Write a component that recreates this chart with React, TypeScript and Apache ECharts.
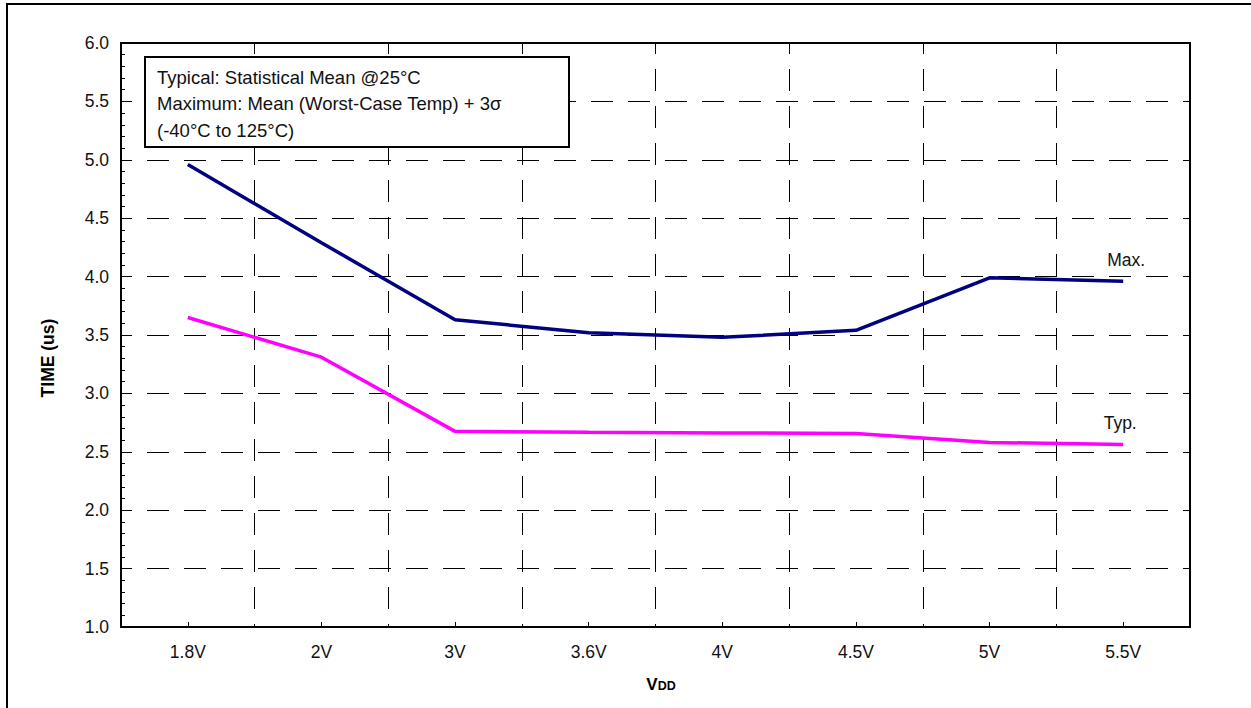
import React, { useEffect, useRef } from "react";
import * as echarts from "echarts";

const categories = ["1.8V", "2V", "3V", "3.6V", "4V", "4.5V", "5V", "5.5V"];
const maxValues = [4.96, 4.29, 3.63, 3.52, 3.48, 3.54, 3.99, 3.96];
const typValues = [3.65, 3.31, 2.675, 2.667, 2.662, 2.657, 2.58, 2.563];
const yMin = 1.0;
const yMax = 6.0;
const yInterval = 0.5;
const noteLines = [
  "Typical: Statistical Mean @25°C",
  "Maximum: Mean (Worst-Case Temp) + 3σ",
  "(-40°C to 125°C)",
];

const FONT = "'Liberation Sans', Arial, sans-serif";

export default function App() {
  const ref = useRef<HTMLDivElement>(null);
  useEffect(() => {
    if (!ref.current) return;
    const chart = echarts.init(ref.current, undefined, { renderer: "svg" });
    const dash = { type: [22, 15] as any, dashOffset: 11, color: "#000", width: 1 };
    const lastIdx = categories.length - 1;
    chart.setOption({
      animation: false,
      backgroundColor: "#fff",
      textStyle: { fontFamily: FONT },
      grid: {
        left: 121,
        top: 43,
        right: 61,
        bottom: 81,
        show: true,
        borderColor: "#000",
        borderWidth: 2,
        backgroundColor: "transparent",
      },
      xAxis: {
        type: "category",
        data: categories,
        boundaryGap: true,
        axisLine: { show: true, lineStyle: { color: "#000", width: 2 } },
        axisTick: { show: true, alignWithLabel: true, inside: true, length: 5, lineStyle: { color: "#000", width: 1 } },
        axisLabel: { color: "#111", fontSize: 17.5, margin: 16, fontFamily: FONT },
        splitLine: { show: true, lineStyle: dash },
      },
      yAxis: {
        type: "value",
        min: yMin,
        max: yMax,
        interval: yInterval,
        axisLine: { show: true, lineStyle: { color: "#000", width: 2 } },
        axisTick: { show: true, inside: true, length: 10, lineStyle: { color: "#000", width: 1 } },
        minorTick: { show: true, splitNumber: 5, length: 4, lineStyle: { color: "#000", width: 1 } },
        axisLabel: {
          color: "#111",
          fontSize: 17.5,
          margin: 12,
          fontFamily: FONT,
          formatter: (v: number) => v.toFixed(1),
        },
        splitLine: { show: true, lineStyle: dash },
      },
      series: [
        {
          name: "Max.",
          type: "line",
          data: maxValues,
          symbol: "none",
          lineStyle: { color: "#000080", width: 3.5 },
          itemStyle: { color: "#000080" },
          z: 5,
          markPoint: {
            silent: true,
            symbol: "circle",
            symbolSize: 1,
            itemStyle: { color: "rgba(0,0,0,0)" },
            label: {
              show: true,
              position: "top",
              distance: 12,
              offset: [3, 0],
              formatter: "Max.",
              color: "#111",
              fontSize: 17.5,
              fontFamily: FONT,
            },
            data: [{ coord: [lastIdx, maxValues[lastIdx]] }],
          },
        },
        {
          name: "Typ.",
          type: "line",
          data: typValues,
          symbol: "none",
          lineStyle: { color: "#FF00FF", width: 3.5 },
          itemStyle: { color: "#FF00FF" },
          z: 5,
          markPoint: {
            silent: true,
            symbol: "circle",
            symbolSize: 1,
            itemStyle: { color: "rgba(0,0,0,0)" },
            label: {
              show: true,
              position: "top",
              distance: 12,
              offset: [-3, 0],
              formatter: "Typ.",
              color: "#111",
              fontSize: 17.5,
              fontFamily: FONT,
            },
            data: [{ coord: [lastIdx, typValues[lastIdx]] }],
          },
        },
      ],
      graphic: [
        {
          type: "rect",
          shape: { x: 7, y: 4, width: 1400, height: 900 },
          style: { fill: "none", stroke: "#000", lineWidth: 2 },
          silent: true,
          z: 100,
        },
        {
          type: "rect",
          shape: { x: 145, y: 57, width: 424, height: 90 },
          style: { fill: "#fff", stroke: "#000", lineWidth: 2 },
          silent: true,
          z: 100,
        },
        ...noteLines.map((t, i) => ({
          type: "text",
          x: 157,
          y: 77 + i * 26.5,
          style: {
            text: t,
            fontSize: 18.5,
            fontFamily: FONT,
            fill: "#111",
            verticalAlign: "middle",
          },
          silent: true,
          z: 101,
        })),
        {
          type: "text",
          x: 48,
          y: 358,
          rotation: Math.PI / 2,
          style: {
            text: "TIME (us)",
            fontSize: 17.5,
            fontWeight: "bold",
            fontFamily: FONT,
            fill: "#000",
            align: "center",
            verticalAlign: "middle",
          },
          silent: true,
          z: 101,
        },
        {
          type: "text",
          x: 661,
          y: 684,
          style: {
            text: "{a|V}{b|DD}",
            align: "center",
            verticalAlign: "middle",
            rich: {
              a: { fontSize: 17, fontWeight: "bold", fontFamily: FONT, fill: "#000", color: "#000" },
              b: { fontSize: 12.5, fontWeight: "bold", fontFamily: FONT, fill: "#000", color: "#000", padding: [3, 0, 0, 0] },
            },
          },
          silent: true,
          z: 101,
        },
      ],
    });
    return () => chart.dispose();
  }, []);
  return (
    <div
      ref={ref}
      style={{ position: "fixed", left: 0, top: 0, width: 1251, height: 708, background: "#fff" }}
    />
  );
}
